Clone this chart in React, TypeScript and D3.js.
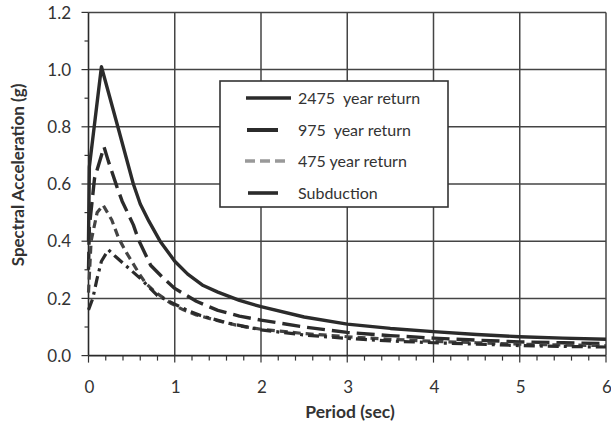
import React from "react";
import * as d3 from "d3";

const periods2475 = [0, 0.01, 0.15, 0.34, 0.52, 0.6, 0.7, 0.83, 1.0, 1.15, 1.33, 1.5, 1.75, 2, 2.5, 3, 3.5, 4, 4.5, 5, 5.5, 6];
const accel2475 = [0.4, 0.66, 1.01, 0.8, 0.6, 0.53, 0.47, 0.4, 0.33, 0.285, 0.245, 0.222, 0.193, 0.171, 0.135, 0.11, 0.095, 0.084, 0.074, 0.066, 0.061, 0.057];

const periods975 = [0, 0.01, 0.07, 0.18, 0.23, 0.33, 0.39, 0.52, 0.58, 0.72, 0.85, 1.0, 1.25, 1.5, 1.75, 2, 2.5, 3, 3.5, 4, 4.5, 5, 5.5, 6];
const accel975 = [0.3, 0.45, 0.62, 0.73, 0.68, 0.59, 0.54, 0.457, 0.405, 0.316, 0.276, 0.235, 0.19, 0.158, 0.138, 0.124, 0.1, 0.081, 0.07, 0.061, 0.054, 0.048, 0.045, 0.042];

const periods475 = [0, 0.03, 0.1, 0.17, 0.27, 0.35, 0.44, 0.5, 0.58, 0.66, 0.77, 0.95, 1.1, 1.25, 1.5, 1.75, 2, 2.5, 3, 3.5, 4, 4.5, 5, 5.5, 6];
const accel475 = [0.22, 0.4, 0.5, 0.526, 0.474, 0.41, 0.36, 0.33, 0.29, 0.254, 0.223, 0.184, 0.16, 0.142, 0.122, 0.104, 0.092, 0.077, 0.066, 0.057, 0.05, 0.045, 0.04, 0.037, 0.035];

const periodsSub = [0, 0.05, 0.1, 0.15, 0.23, 0.3, 0.45, 0.6, 0.8, 1.0, 1.15, 1.3, 1.6, 2, 2.5, 3, 3.5, 4, 4.5, 5, 5.5, 6];
const accelSub = [0.16, 0.2, 0.27, 0.33, 0.37, 0.35, 0.31, 0.27, 0.21, 0.18, 0.158, 0.14, 0.115, 0.09, 0.072, 0.06, 0.051, 0.045, 0.04, 0.035, 0.032, 0.03];

const legendLabels = ["2475  year return", "975  year return", "475 year return", "Subduction"];
const xTicks = [0, 1, 2, 3, 4, 5, 6];
const yTicks = [0, 0.2, 0.4, 0.6, 0.8, 1.0, 1.2];

const W = 611;
const H = 423;
const FONT = "Lato, 'Open Sans', sans-serif";

export default function App() {
  const x = d3.scaleLinear().domain([0, 6]).range([88.5, 606]);
  const y = d3.scaleLinear().domain([0, 1.2]).range([355.6, 12.4]);

  const line = d3
    .line<[number, number]>()
    .x((d) => x(d[0]))
    .y((d) => y(d[1]))
    .curve(d3.curveLinear);

  const zip = (a: number[], b: number[]) => a.map((v, i) => [v, b[i]] as [number, number]);

  const series = [
    { data: zip(periods2475, accel2475), dash: "none", color: "#2b2b2b", w: 3.4 },
    { data: zip(periods975, accel975), dash: "18,7", color: "#2b2b2b", w: 3.4 },
    { data: zip(periods475, accel475), dash: "8,5", color: "#444", w: 3.2 },
    { data: zip(periodsSub, accelSub), dash: "11,5,3,5", color: "#2b2b2b", w: 3.2 },
  ];

  const minorX = d3.range(0, 6.0001, 0.2);
  const minorY = d3.range(0.1, 1.2, 0.2);

  const legendRows = [98, 130, 161, 193];

  return (
    <svg
      width={W}
      height={H}
      style={{ position: "absolute", left: 0, top: 0, background: "#fff" }}
      fontFamily={FONT}
    >
      <rect x={0} y={0} width={W} height={H} fill="#fff" />
      {xTicks.slice(1).map((t) => (
        <line key={"gx" + t} x1={x(t)} x2={x(t)} y1={y(0)} y2={y(1.2)} stroke="#444" strokeWidth={1.5} />
      ))}
      {yTicks.slice(1).map((t) => (
        <line key={"gy" + t} x1={x(0)} x2={x(6)} y1={y(t)} y2={y(t)} stroke="#444" strokeWidth={1.5} />
      ))}
      <line x1={x(0)} x2={x(0)} y1={y(0)} y2={y(1.2)} stroke="#2a2a2a" strokeWidth={1.6} />
      <line x1={x(0)} x2={x(6)} y1={y(0)} y2={y(0)} stroke="#2a2a2a" strokeWidth={1.6} />
      {minorX.map((t, i) => (
        <line key={"tx" + i} x1={x(t)} x2={x(t)} y1={y(0)} y2={y(0) + (i % 5 === 0 ? 7 : 5)} stroke="#333" strokeWidth={1.2} />
      ))}
      {yTicks.map((t) => (
        <line key={"ty" + t} x1={x(0) - 7} x2={x(0)} y1={y(t)} y2={y(t)} stroke="#333" strokeWidth={1.2} />
      ))}
      {minorY.map((t, i) => (
        <line key={"tmy" + i} x1={x(0) - 4} x2={x(0)} y1={y(t)} y2={y(t)} stroke="#333" strokeWidth={1.2} />
      ))}
      {yTicks.map((t) => (
        <text key={"ly" + t} x={71} y={y(t)} dy="0.36em" textAnchor="end" fontSize={17} fill="#333">
          {t.toFixed(1)}
        </text>
      ))}
      {xTicks.map((t) => (
        <text key={"lx" + t} x={x(t) + 1} y={393} textAnchor="middle" fontSize={17} fill="#333">
          {t}
        </text>
      ))}
      <text x={350} y={418} textAnchor="middle" fontSize={17.5} fontWeight="bold" fill="#333">
        Period (sec)
      </text>
      <text
        transform={`translate(24,175) rotate(-90)`}
        textAnchor="middle"
        fontSize={17}
        fontWeight="bold"
        fill="#333"
      >
        Spectral Acceleration (g)
      </text>
      {series.map((s, i) => (
        <path
          key={"s" + i}
          d={line(s.data) || ""}
          fill="none"
          stroke={s.color}
          strokeWidth={s.w}
          strokeDasharray={s.dash}
          strokeLinejoin="round"
        />
      ))}
      <rect x={220} y={81} width={228} height={126} fill="#fff" stroke="#333" strokeWidth={1.6} />
      <line x1={246} x2={291} y1={legendRows[0]} y2={legendRows[0]} stroke="#2b2b2b" strokeWidth={3.4} />
      <line x1={247} x2={278} y1={legendRows[1]} y2={legendRows[1]} stroke="#2b2b2b" strokeWidth={4} />
      <line x1={245} x2={290} y1={legendRows[2]} y2={legendRows[2]} stroke="#999" strokeWidth={3.4} strokeDasharray="10,5" />
      <line x1={248} x2={278} y1={legendRows[3]} y2={legendRows[3]} stroke="#2b2b2b" strokeWidth={3.6} />
      {legendLabels.map((l, i) => (
        <text key={"leg" + i} x={298} y={legendRows[i]} dy="0.36em" fontSize={16} fill="#333" style={{ whiteSpace: "pre" }}>
          {l}
        </text>
      ))}
    </svg>
  );
}
